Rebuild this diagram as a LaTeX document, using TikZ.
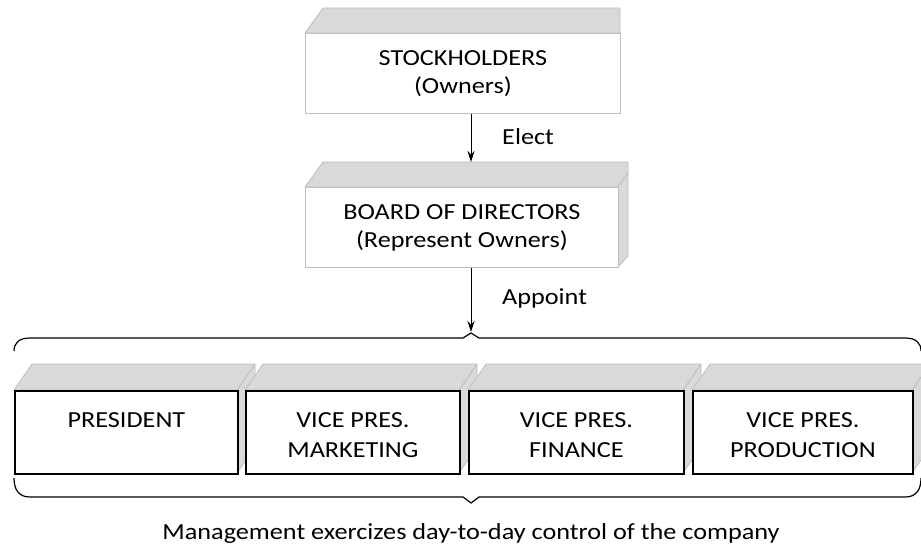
\documentclass[tikz,border=0pt]{standalone}
\usepackage{fontspec}
\setmainfont{Carlito}[FakeStretch=1.14]
\usetikzlibrary{arrows.meta}
\definecolor{topgray}{HTML}{D9D9D9}
\definecolor{edgegray}{HTML}{BFBFBF}
\begin{document}
\begin{tikzpicture}[x=1pt,y=-1pt,
 face/.style={fill=topgray,draw=edgegray,line width=0.8pt,line join=round},
 frontlight/.style={draw=edgegray,fill=white,line width=0.8pt,inner sep=0pt},
 frontdark/.style={draw=black,fill=white,line width=1.8pt,inner sep=0pt},
 txt/.style={font=\fontsize{23}{28}\selectfont,align=center,inner sep=0pt},
 btxt/.style={font=\fontsize{23}{30}\selectfont,align=center,inner sep=0pt},
 lbl/.style={font=\fontsize{23}{28}\selectfont,anchor=west,inner sep=0pt},
 arr/.style={-{Stealth[length=11pt,width=7pt]},line width=1pt},
 brace/.style={line width=1.2pt}]
\useasboundingbox (0,0) rectangle (921,548);

% Stockholders
\draw[face] (305,33) -- (323,8) -- (620,8) -- (620,33) -- cycle;
\node[frontlight,minimum width=315pt,minimum height=80pt,anchor=north west] (sh) at (305,33) {};
\node[txt] (sht) at (sh.center) {STOCKHOLDERS\\(Owners)};

% Board
\draw[face] (305,187) -- (323,162) -- (628,162) -- (628,173) -- (618,187) -- cycle;
\draw[face] (618,187) -- (628,173) -- (628,256) -- (618,267) -- cycle;
\node[frontlight,minimum width=313pt,minimum height=80pt,anchor=north west] (bd) at (305,187) {};
\node[txt] (bdt) at (bd.center) {BOARD OF DIRECTORS\\(Represent Owners)};

% connectors
\coordinate (bdtop) at (471,162);
\coordinate (tip1) at (471,332);
\draw[arr] (sh.south -| bdtop) -- (bdtop);
\draw[arr] (bd.south -| tip1) -- (tip1);
\node[lbl] (elect) at (502,137) {Elect};
\node[lbl] (appoint) at (502,298) {Appoint};

% top brace
\draw[brace] (14,351) .. controls (14,343) and (19,338) .. (30,338) -- (463,338) -- (471,333) -- (479,338) -- (905,338) .. controls (916,338) and (921,343) .. (921,351);

% management boxes
\foreach \xa/\xb/\nm/\tx in {14/237/pres/{PRESIDENT\\\mbox{}},245/459/vpm/{VICE PRES.\\MARKETING},468/683/vpf/{VICE PRES.\\FINANCE},692/912/vpp/{VICE PRES.\\PRODUCTION}}{
  \draw[face] (\xb,390) -- (\xb+18,364) -- (\xb+18,447) -- (\xb,473) -- cycle;
  \draw[face] (\xa,390) -- (\xa+18,364) -- (\xb+18,364) -- (\xb,390) -- cycle;
  \node[frontdark,minimum width={(\xb-\xa)*1pt},minimum height=83pt,anchor=north west] (\nm) at (\xa,390) {};
  \node[btxt] (\nm t) at ([yshift=-3pt]\nm.center) {\tx};
}

% bottom brace
\draw[brace] (14,478) .. controls (14,490) and (19,497) .. (30,497) -- (463,497) -- (471,503) -- (479,497) -- (905,497) .. controls (916,497) and (921,490) .. (921,478);
\node[txt,anchor=base] (mgmt) at (471,539) {Management exercizes day-to-day control of the company};
\end{tikzpicture}
\end{document}
